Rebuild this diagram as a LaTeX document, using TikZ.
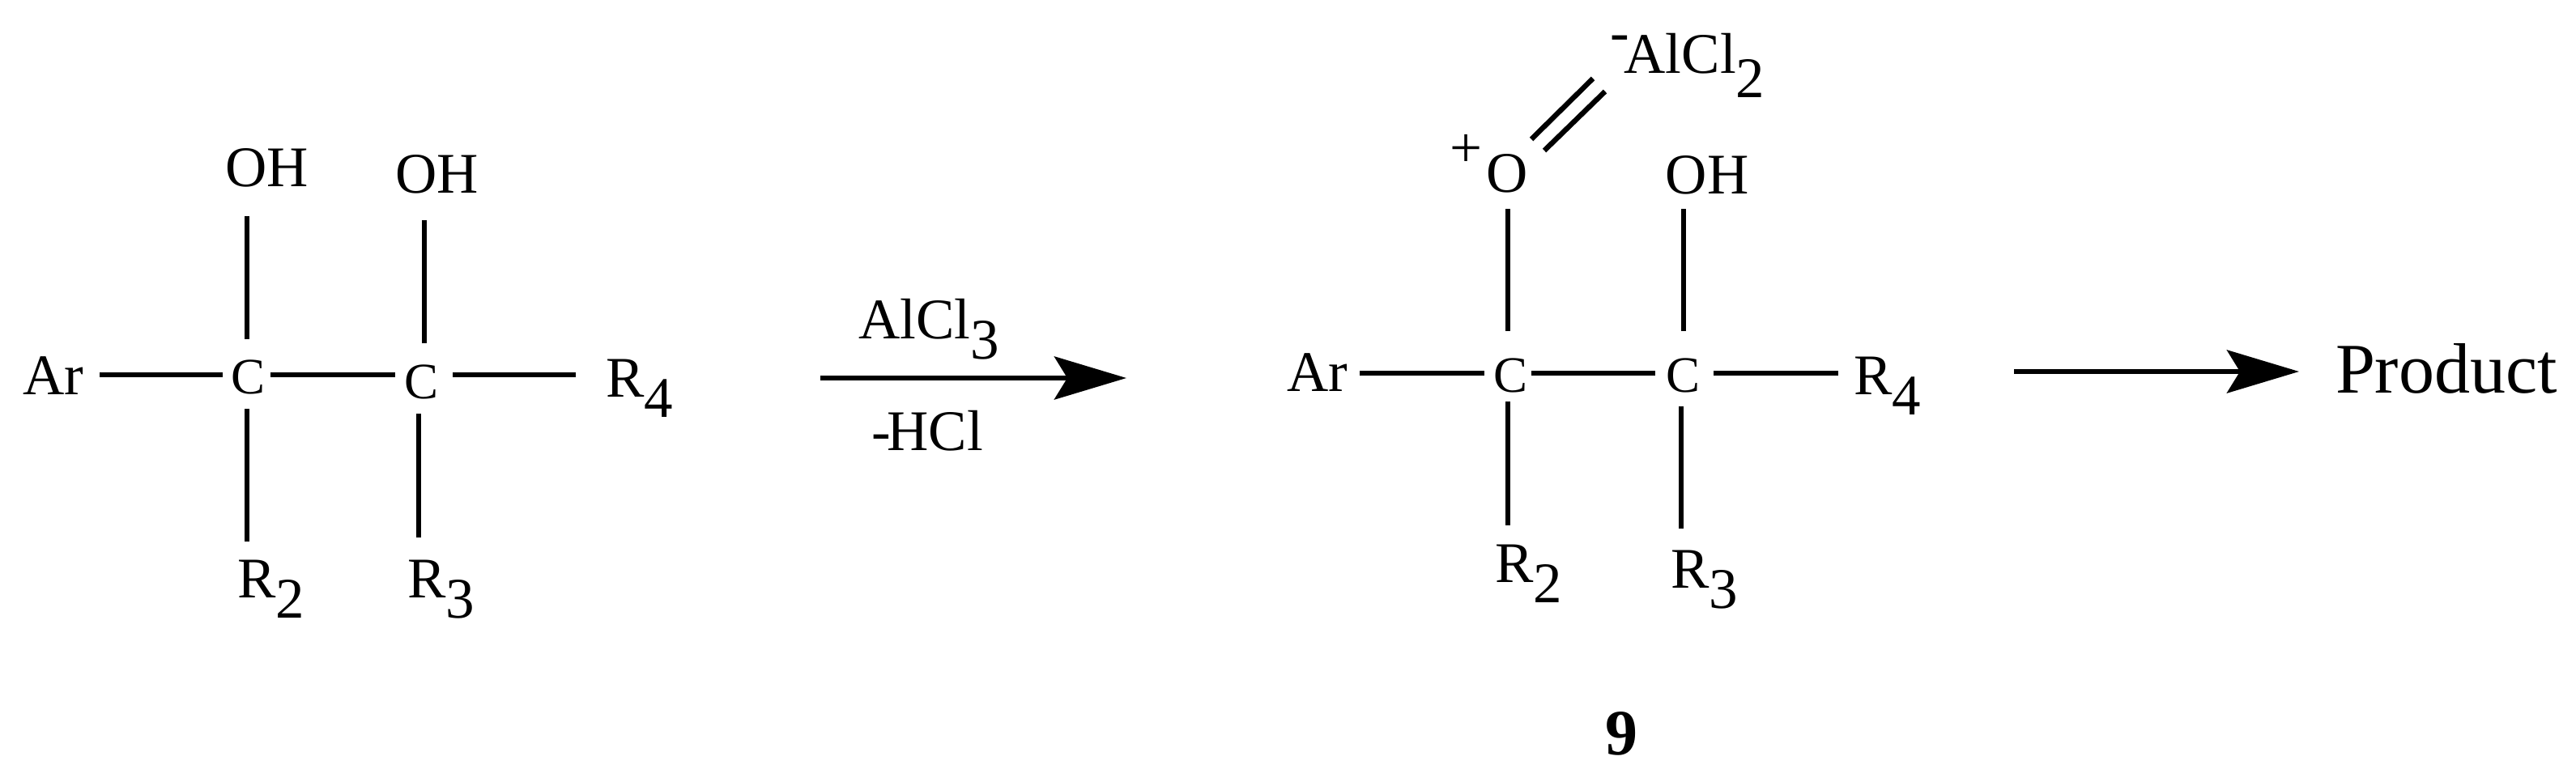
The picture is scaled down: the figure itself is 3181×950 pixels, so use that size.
\documentclass[tikz,border=0pt]{standalone}
\usepackage{fontspec}
\setmainfont{Liberation Serif}
\usetikzlibrary{arrows.meta}
\newcommand\dn[2][25pt]{\raisebox{-#1}{#2}}
\tikzset{
  chem/.style={inner sep=0pt,outer sep=0pt,anchor=base,font=\fontsize{71pt}{80pt}\selectfont},
  chemw/.style={chem,anchor=base west},
  cat/.style={chem,font=\fontsize{63pt}{70pt}\selectfont},
  bond/.style={line width=6.4pt,black},
  rxn/.style={line width=6.8pt,black,-{Stealth[length=89pt,width=53pt,inset=16pt]}}
}
\begin{document}
\begin{tikzpicture}[x=1pt,y=-1pt]
\useasboundingbox (0,0) rectangle (3181,950);
% ---- left molecule
\node[chem] (oh1) at (330,230) {OH};
\node[chem] (oh2) at (540,238) {OH};
\node[cat] (c1) at (307,486) {C};
\node[cat] (c2) at (521,492) {C};
\node[chem] (ar1) at (66,487) {Ar};
\node[chemw] (r41) at (748,490) {R\dn{4}};
\node[chemw] (r21) at (293,738) {R\dn{2}};
\node[chemw] (r31) at (503,738) {R\dn{3}};
\draw[bond] ([shift={(57,-24)}]ar1.base) -- ([shift={(-32,-23)}]c1.base);
\draw[bond] ([shift={(27,-23)}]c1.base) -- ([shift={(-33,-29)}]c2.base);
\draw[bond] ([shift={(38,-29)}]c2.base) -- ([shift={(-37,-27)}]r41.base west);
\draw[bond] ([shift={(-2,-67)}]c1.base) -- ([shift={(-25,37)}]oh1.base);
\draw[bond] ([shift={(3,-68)}]c2.base) -- ([shift={(-16,34)}]oh2.base);
\draw[bond] ([shift={(-2,19)}]c1.base) -- ([shift={(12,-69)}]r21.base west);
\draw[bond] ([shift={(-4,19)}]c2.base) -- ([shift={(14,-74)}]r31.base west);
% ---- first arrow
\coordinate (a1s) at (1013,467);
\coordinate (a1e) at (1391,467);
\draw[rxn] (a1s) -- (a1e);
\node[chemw] (alcl3) at (1060,418) {AlCl\dn{3}};
\node[chemw] (hcl) at (1076,556) {-\kern-4pt HCl};
% ---- right molecule
\node[chemw] (alcl2) at (1988,91) {\raisebox{28pt}{-}\kern-6pt AlCl\dn[30pt]{2}};
\node[chem,anchor=base east] (o) at (1887,237) {\raisebox{31pt}{+}\kern5pt O};
\node[chem] (oh4) at (2108,239) {OH};
\node[cat] (c3) at (1865,484) {C};
\node[cat] (c4) at (2078,484) {C};
\node[chem] (ar2) at (1627,483) {Ar};
\node[chemw] (r42) at (2289,487) {R\dn{4}};
\node[chemw] (r22) at (1846,719) {R\dn{2}};
\node[chemw] (r32) at (2063,726) {R\dn{3}};
\node[chem,font=\fontsize{80pt}{90pt}\selectfont\bfseries] (nine) at (2002,932) {9};
\draw[bond] ([shift={(52,-22)}]ar2.base) -- ([shift={(-32,-23)}]c3.base);
\draw[bond] ([shift={(26,-23)}]c3.base) -- ([shift={(-34,-23)}]c4.base);
\draw[bond] ([shift={(38,-23)}]c4.base) -- ([shift={(-19,-26)}]r42.base west);
\draw[bond] ([shift={(-3,-75)}]c3.base) -- ([shift={(-25,21)}]o.base east);
\draw[bond] ([shift={(1,-75)}]c4.base) -- ([shift={(-29,19)}]oh4.base);
\draw[bond] ([shift={(-3,12)}]c3.base) -- ([shift={(16,-70)}]r22.base west);
\draw[bond] ([shift={(-2,18)}]c4.base) -- ([shift={(13,-73)}]r32.base west);
\draw[bond] ([shift={(4,-65)}]o.base east) -- ([shift={(-21,6)}]alcl2.base west);
\draw[bond] ([shift={(20,-51)}]o.base east) -- ([shift={(-6,22)}]alcl2.base west);
% ---- second arrow
\coordinate (a2s) at (2487,459);
\coordinate (a2e) at (2839,459);
\draw[rxn] (a2s) -- (a2e);
\node[chemw,font=\fontsize{88pt}{96pt}\selectfont] (prod) at (2884,485) {Product};
\end{tikzpicture}
\end{document}
